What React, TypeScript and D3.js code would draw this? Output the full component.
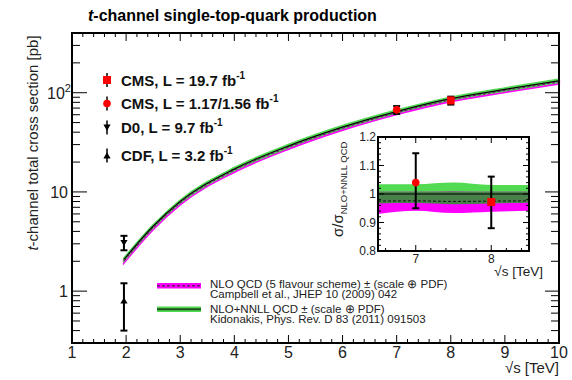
import React from "react";
import * as d3 from "d3";

// ---------- data ----------
const sqrtS = [1.96, 2.5, 3, 4, 5, 6, 7, 8, 9, 10];
const nnll = [2.08, 4.5, 8.0, 17.0, 29.0, 45.0, 64.6, 87.2, 108, 132];
const nnllUp = [2.16, 4.66, 8.28, 17.6, 30.0, 46.6, 66.9, 90.2, 111.8, 136.6];
const nnllLow = [2.01, 4.35, 7.74, 16.4, 28.0, 43.5, 62.5, 84.3, 104.4, 127.6];
const nlo = [2.02, 4.38, 7.8, 16.6, 28.3, 43.9, 63.0, 85.0, 105.3, 128.7];
const nloUp = [2.09, 4.52, 8.04, 17.1, 29.1, 45.2, 64.9, 87.6, 108.5, 132.6];
const nloLow = [1.94, 4.21, 7.5, 15.9, 27.1, 42.1, 60.6, 81.8, 101.2, 123.7];

// measurements
const cms20 = { s: 8, v: 83.6, lo: 75.9, hi: 91.3 };
const cms1 = { s: 7, v: 67.2, lo: 61.1, hi: 73.3 };
const d0 = { s: 1.96, v: 3.07, lo: 2.58, hi: 3.61 };
const cdf = { s: 1.96, v: 0.8, lo: 0.4, hi: 1.2 };

// inset ratios
const insetS = [6.5, 7, 7.5, 8, 8.5];
const rNnllUp = [1.034, 1.034, 1.04, 1.032, 1.032];
const rNnllLow = [0.967, 0.968, 0.964, 0.967, 0.969];
const rNloUp = [1.008, 1.008, 1.009, 1.008, 1.008];
const rNloLow = [0.93, 0.941, 0.933, 0.938, 0.941];
const rNlo = [0.975, 0.976, 0.974, 0.975, 0.976];
const rCms7 = { s: 7, v: 1.04, lo: 0.95, hi: 1.143 };
const rCms8 = { s: 8, v: 0.972, lo: 0.88, hi: 1.061 };

const xTicks = [1, 2, 3, 4, 5, 6, 7, 8, 9, 10];
const insetYTicks = [0.8, 0.9, 1.0, 1.1, 1.2];
const insetXTicks = [7, 8];

const FONT = "'Liberation Sans', Arial, Helvetica, sans-serif";
const GREEN = "#52da52";
const DKGREEN = "#4a804a";
const MAG = "#ff00ff";
const DASH = "#6a1a6a";

export default function App() {
  const W = 572, H = 380;
  const L = 72, R = 559, T = 33, B = 343;
  const x = d3.scaleLinear().domain([1, 10]).range([L, R]);
  const y = d3.scaleLog().domain([0.3, 400]).range([B, T]);

  const IL = 378, IR = 529, IT = 137, IB = 251;
  const ix = d3.scaleLinear().domain([6.5, 8.5]).range([IL, IR]);
  const iy = d3.scaleLinear().domain([0.8, 1.2]).range([IB, IT]);

  const idx = sqrtS.map((_, i) => i);
  const line = (arr: number[]) =>
    d3.line<number>().x((i) => x(sqrtS[i])).y((i) => y(arr[i])).curve(d3.curveMonotoneX)(idx) || "";
  const area = (lo: number[], hi: number[]) =>
    d3
      .area<number>()
      .x((i) => x(sqrtS[i]))
      .y0((i) => y(lo[i]))
      .y1((i) => y(hi[i]))
      .curve(d3.curveMonotoneX)(idx) || "";

  const iidx = insetS.map((_, i) => i);
  const iarea = (lo: (i: number) => number, hi: (i: number) => number) =>
    d3.area<number>().x((i) => ix(insetS[i])).y0((i) => iy(lo(i))).y1((i) => iy(hi(i))).curve(d3.curveMonotoneX)(iidx) || "";
  const iline = (f: (i: number) => number) =>
    d3.line<number>().x((i) => ix(insetS[i])).y((i) => iy(f(i))).curve(d3.curveMonotoneX)(iidx) || "";

  // minor ticks
  const xMinor: number[] = [];
  for (let v = 1; v <= 10.001; v += 0.2) xMinor.push(+v.toFixed(2));
  const yMinor: number[] = [];
  [0.1, 1, 10, 100].forEach((dec) => {
    for (let k = 2; k <= 9; k++) {
      const v = dec * k;
      if (v >= 0.3 && v <= 400) yMinor.push(v);
    }
  });
  const yMajor = [1, 10, 100];
  const ixMinor: number[] = [];
  for (let v = 6.6; v <= 8.5; v += 0.2) ixMinor.push(+v.toFixed(2));
  const iyMinor: number[] = [];
  for (let v = 0.82; v < 1.2; v += 0.02) iyMinor.push(+v.toFixed(2));

  const errBar = (px: number, lo: number, hi: number, cap: number, key: string) => (
    <g key={key} stroke="#000" strokeWidth={2}>
      <line x1={px} x2={px} y1={lo} y2={hi} />
      <line x1={px - cap} x2={px + cap} y1={lo} y2={lo} />
      <line x1={px - cap} x2={px + cap} y1={hi} y2={hi} />
    </g>
  );

  const triDown = (cx: number, cy: number, s: number) =>
    `M${cx - s},${cy - s * 0.8} L${cx + s},${cy - s * 0.8} L${cx},${cy + s * 0.9} Z`;
  const triUp = (cx: number, cy: number, s: number) =>
    `M${cx - s},${cy + s * 0.8} L${cx + s},${cy + s * 0.8} L${cx},${cy - s * 0.9} Z`;

  const legendRows = [
    { y: 80, text: "CMS, L = 19.7 fb", m: "sq" },
    { y: 103.5, text: "CMS, L = 1.17/1.56 fb", m: "ci" },
    { y: 127.5, text: "D0, L = 9.7 fb", m: "td" },
    { y: 155.5, text: "CDF, L = 3.2 fb", m: "tu" },
  ];

  return (
    <svg width={W} height={H} style={{ position: "absolute", left: 0, top: 0, background: "#fff" }} fontFamily={FONT}>
      <rect x={0} y={0} width={W} height={H} fill="#fff" />
      {/* title */}
      <text x={88} y={21} fontSize={16} fontWeight="bold" fill="#000">
        <tspan fontStyle="italic">t</tspan>-channel single-top-quark production
      </text>

      {/* theory curves main */}
      <path d={area(nloLow, nloUp)} fill={MAG} stroke={MAG} strokeWidth={2.2} />
      <path d={area(nnllLow, nnllUp)} fill={GREEN} stroke={GREEN} strokeWidth={1.6} />
      <path d={line(nnll)} fill="none" stroke="#000" strokeWidth={1.3} />
      <path d={line(nlo)} fill="none" stroke={DASH} strokeWidth={1.2} strokeDasharray="3,2" />

      {/* frame ticks main */}
      <g stroke="#000" strokeWidth={1}>
        {xMinor.map((v) => {
          const major = Math.abs(v - Math.round(v)) < 1e-6;
          const len = major ? 8 : 4;
          return (
            <g key={"xm" + v}>
              <line x1={x(v)} x2={x(v)} y1={B} y2={B - len} />
              <line x1={x(v)} x2={x(v)} y1={T} y2={T + len} />
            </g>
          );
        })}
        {yMinor.map((v) => (
          <g key={"ym" + v}>
            <line x1={L} x2={L + 8} y1={y(v)} y2={y(v)} />
            <line x1={R} x2={R - 8} y1={y(v)} y2={y(v)} />
          </g>
        ))}
        {yMajor.map((v) => (
          <g key={"yM" + v}>
            <line x1={L} x2={L + 15} y1={y(v)} y2={y(v)} />
            <line x1={R} x2={R - 14} y1={y(v)} y2={y(v)} />
          </g>
        ))}
      </g>
      <rect x={L} y={T} width={R - L} height={B - T} fill="none" stroke="#000" strokeWidth={2} />

      {/* x tick labels */}
      {xTicks.map((v) => (
        <text key={"xl" + v} x={x(v)} y={358} fontSize={16} textAnchor="middle" fill="#222">
          {v}
        </text>
      ))}
      <text x={559} y={373} fontSize={15} textAnchor="end" fill="#222">
        √s [TeV]
      </text>
      {/* y tick labels */}
      <text x={68} y={y(1) + 6} fontSize={16} textAnchor="end" fill="#222">1</text>
      <text x={68} y={y(10) + 6} fontSize={16} textAnchor="end" fill="#222">10</text>
      <text x={47} y={y(100) + 6} fontSize={16} fill="#222">
        10<tspan fontSize={11} dy={-7}>2</tspan>
      </text>
      <text transform="translate(38,143) rotate(-90)" fontSize={15} textAnchor="middle" fill="#222">
        <tspan fontStyle="italic">t</tspan>-channel total cross section [pb]
      </text>

      {/* data main */}
      {[d0, cdf].map((p, i) => errBar(x(p.s), y(p.lo), y(p.hi), 3.5, "e" + i))}
      <path d={triDown(x(d0.s), y(d0.v), 3.6)} fill="#000" />
      <path d={triUp(x(cdf.s), y(cdf.v), 3.6)} fill="#000" />
      {errBar(x(cms1.s), y(cms1.lo), y(cms1.hi), 3.5, "c1")}
      {errBar(x(cms20.s), y(cms20.lo), y(cms20.hi), 3.5, "c2")}
      <circle cx={x(cms1.s)} cy={y(cms1.v)} r={3.8} fill="#ff0000" />
      <rect x={x(cms20.s) - 3.8} y={y(cms20.v) - 4} width={7.6} height={8} fill="#ff0000" />

      {/* top-left legend */}
      {legendRows.map((r) => (
        <g key={r.text}>
          <line x1={107} x2={107} y1={r.y - 7} y2={r.y + 7} stroke="#000" strokeWidth={1.5} />
          {r.m === "sq" && <rect x={103} y={r.y - 4} width={8} height={8} fill="#ff0000" />}
          {r.m === "ci" && <circle cx={107} cy={r.y} r={3.8} fill="#ff0000" />}
          {r.m === "td" && <path d={triDown(107, r.y, 3.6)} fill="#000" />}
          {r.m === "tu" && <path d={triUp(107, r.y, 3.6)} fill="#000" />}
          <text x={121} y={r.y + 5.5} fontSize={15} fontWeight="bold" fill="#111">
            {r.text}
            <tspan fontSize={10} dy={-7}>-1</tspan>
          </text>
        </g>
      ))}

      {/* bottom legend */}
      <rect x={157} y={283} width={44} height={5.5} fill={MAG} />
      <line x1={157} x2={201} y1={285.7} y2={285.7} stroke={DASH} strokeWidth={1.4} strokeDasharray="3,2" />
      <rect x={157} y={306.5} width={44} height={5.5} fill={GREEN} />
      <line x1={157} x2={201} y1={309.2} y2={309.2} stroke="#1f4f1f" strokeWidth={2} />
      <g fontSize={11.5} fill="#222">
        <text x={210} y={287.5}>NLO QCD (5 flavour scheme) ± (scale ⊕ PDF)</text>
        <text x={210} y={297.5}>Campbell et al., JHEP 10 (2009) 042</text>
        <text x={210} y={312.5}>NLO+NNLL QCD ± (scale ⊕ PDF)</text>
        <text x={210} y={322.5}>Kidonakis, Phys. Rev. D 83 (2011) 091503</text>
      </g>

      {/* inset */}
      <rect x={IL} y={IT} width={IR - IL} height={IB - IT} fill="#fff" />
      <defs>
        <clipPath id="insetClip">
          <rect x={IL} y={IT} width={IR - IL} height={IB - IT} />
        </clipPath>
      </defs>
      <g clipPath="url(#insetClip)">
        <path d={iarea((i) => rNnllLow[i], (i) => rNnllUp[i])} fill={GREEN} />
        <path d={iarea((i) => rNloLow[i], (i) => rNloUp[i])} fill={MAG} />
        <path
          d={iarea(
            (i) => Math.max(rNloLow[i], rNnllLow[i]),
            (i) => Math.min(rNloUp[i], rNnllUp[i])
          )}
          fill={DKGREEN}
        />
        <path d={iline(() => 1)} fill="none" stroke="#1a2a1a" strokeWidth={1.5} />
        <path d={iline((i) => rNlo[i])} fill="none" stroke="#111" strokeWidth={1} strokeDasharray="3,2" />
      </g>
      <g stroke="#000" strokeWidth={1}>
        {ixMinor.map((v) => {
          const major = Math.abs(v - Math.round(v)) < 1e-6;
          const len = major ? 6 : 3;
          return (
            <g key={"ixm" + v}>
              <line x1={ix(v)} x2={ix(v)} y1={IB} y2={IB - len} />
              <line x1={ix(v)} x2={ix(v)} y1={IT} y2={IT + len} />
            </g>
          );
        })}
        {iyMinor.map((v) => {
          const major = Math.abs(v * 10 - Math.round(v * 10)) < 1e-6;
          const len = major ? 6 : 3;
          return (
            <g key={"iym" + v}>
              <line x1={IL} x2={IL + len} y1={iy(v)} y2={iy(v)} />
              <line x1={IR} x2={IR - len} y1={iy(v)} y2={iy(v)} />
            </g>
          );
        })}
      </g>
      {errBar(ix(rCms7.s), iy(rCms7.lo), iy(rCms7.hi), 3.5, "ic1")}
      {errBar(ix(rCms8.s), iy(rCms8.lo), iy(rCms8.hi), 3.5, "ic2")}
      <circle cx={ix(rCms7.s)} cy={iy(rCms7.v)} r={3.8} fill="#ff0000" />
      <rect x={ix(rCms8.s) - 4} y={iy(rCms8.v) - 4} width={8} height={8} fill="#ff0000" />
      <rect x={IL} y={IT} width={IR - IL} height={IB - IT} fill="none" stroke="#000" strokeWidth={2} />

      {insetYTicks.map((v) => (
        <text key={"iyl" + v} x={376} y={iy(v) + 4} fontSize={12} textAnchor="end" fill="#222">
          {v === 1 ? "1" : v.toFixed(1)}
        </text>
      ))}
      {insetXTicks.map((v) => (
        <text key={"ixl" + v} x={ix(v)} y={263} fontSize={12} textAnchor="middle" fill="#222">
          {v}
        </text>
      ))}
      <text x={543} y={276} fontSize={13.5} textAnchor="end" fill="#222">
        √s [TeV]
      </text>
      <text transform="translate(343,237) rotate(-90)" fill="#222">
        <tspan fontSize={15}>σ/σ</tspan>
        <tspan fontSize={9.5} dy={4}>NLO+NNLL QCD</tspan>
      </text>
    </svg>
  );
}
